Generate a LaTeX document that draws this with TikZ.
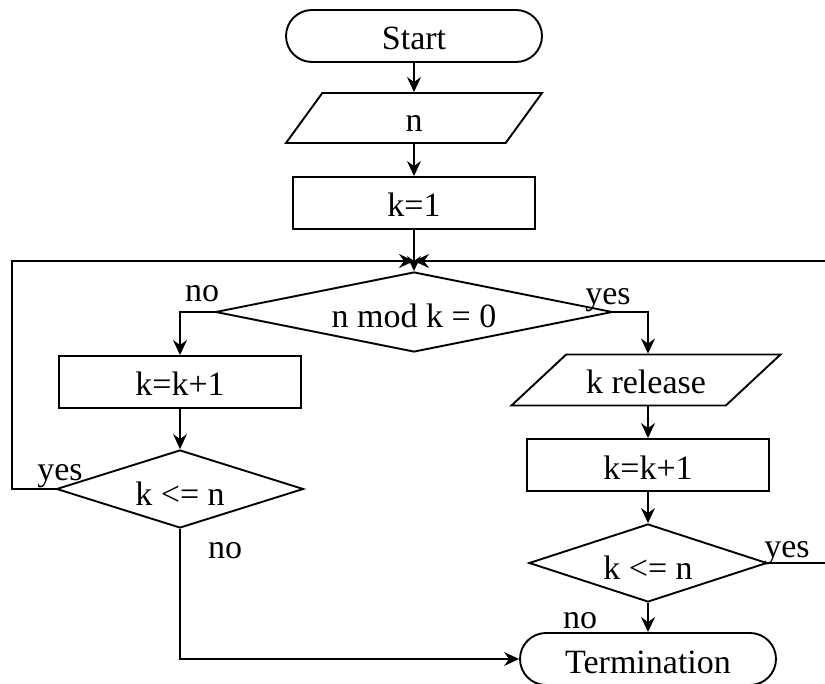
\documentclass[tikz,border=0pt]{standalone}
\usepackage{fontspec}
\setmainfont{Liberation Serif}
\usetikzlibrary{arrows.meta,shapes.geometric}

\begin{document}
\begin{tikzpicture}[x=1pt,y=-1pt,line width=1.9pt,
  every node/.style={font=\fontsize{34}{40}\selectfont},
  base/.style={draw,inner sep=0pt,text height=28pt,text depth=0pt},
  term/.style={base,rectangle,rounded corners=26pt,minimum width=256pt,minimum height=52pt},
  proc/.style={base,rectangle,minimum width=242pt,minimum height=52pt},
  io/.style={base,trapezium,trapezium stretches body,inner ysep=11pt},
  decision/.style={base,diamond,aspect=3,text height=32pt},
  lab/.style={anchor=base,inner sep=0pt},
  arr/.style={-{Stealth[length=15pt,width=14pt,inset=5pt]}}]
\useasboundingbox (0,0) rectangle (825,684);

% main column
\node[term] (start) at (414,36) {Start};
\node[io,trapezium left angle=54,trapezium right angle=126,minimum width=256pt] (inn) at (414,118) {n};
\node[proc] (kone) at (414,203) {k=1};
\node[decision,aspect=5,minimum width=397pt,minimum height=80pt] (mod) at (414,312) {n mod k = 0};

% left branch
\node[proc] (incl) at (180,382) {k=k+1};
\node[decision,minimum width=247pt,minimum height=78pt] (testl) at (180,489) {k <= n};

% right branch
\node[io,trapezium left angle=43,trapezium right angle=137,minimum width=269pt,inner ysep=11.5pt] (out) at (646,380) {k release};
\node[proc] (incr) at (648,465) {k=k+1};
\node[decision,minimum width=238pt,minimum height=78pt] (testr) at (648,563) {k <= n};
\node[term] (stop) at (648,659) {Termination};

\draw[arr] (start) -- (inn);
\draw[arr] (inn) -- (kone);
\draw[arr] (kone) -- (mod);
\draw[arr] (mod.west) -| (incl);
\draw[arr] (incl) -- (testl);
\draw[arr] (testl.west) -- ++(-44,0) |- ([yshift=10pt]mod.north);
\draw[arr] (testl.south) |- (stop.west);
\draw[arr] (mod.east) -| (incr.north |- out.north);
\draw[arr] (incr.north |- out.south) -- (incr);
\draw[arr] (incr) -- (testr);
\draw[arr] (testr) -- (stop);
\draw[arr] (testr.east) -- (828,563) |- ([yshift=10pt]mod.north);

\node[lab] (nomod) at (202,302) {no};
\node[lab] (yesmod) at (608,305) {yes};
\node[lab] (yesl) at (60,481) {yes};
\node[lab] (nol) at (225,558) {no};
\node[lab] (yesr) at (787,557) {yes};
\node[lab] (nor) at (580,628) {no};
\end{tikzpicture}
\end{document}
